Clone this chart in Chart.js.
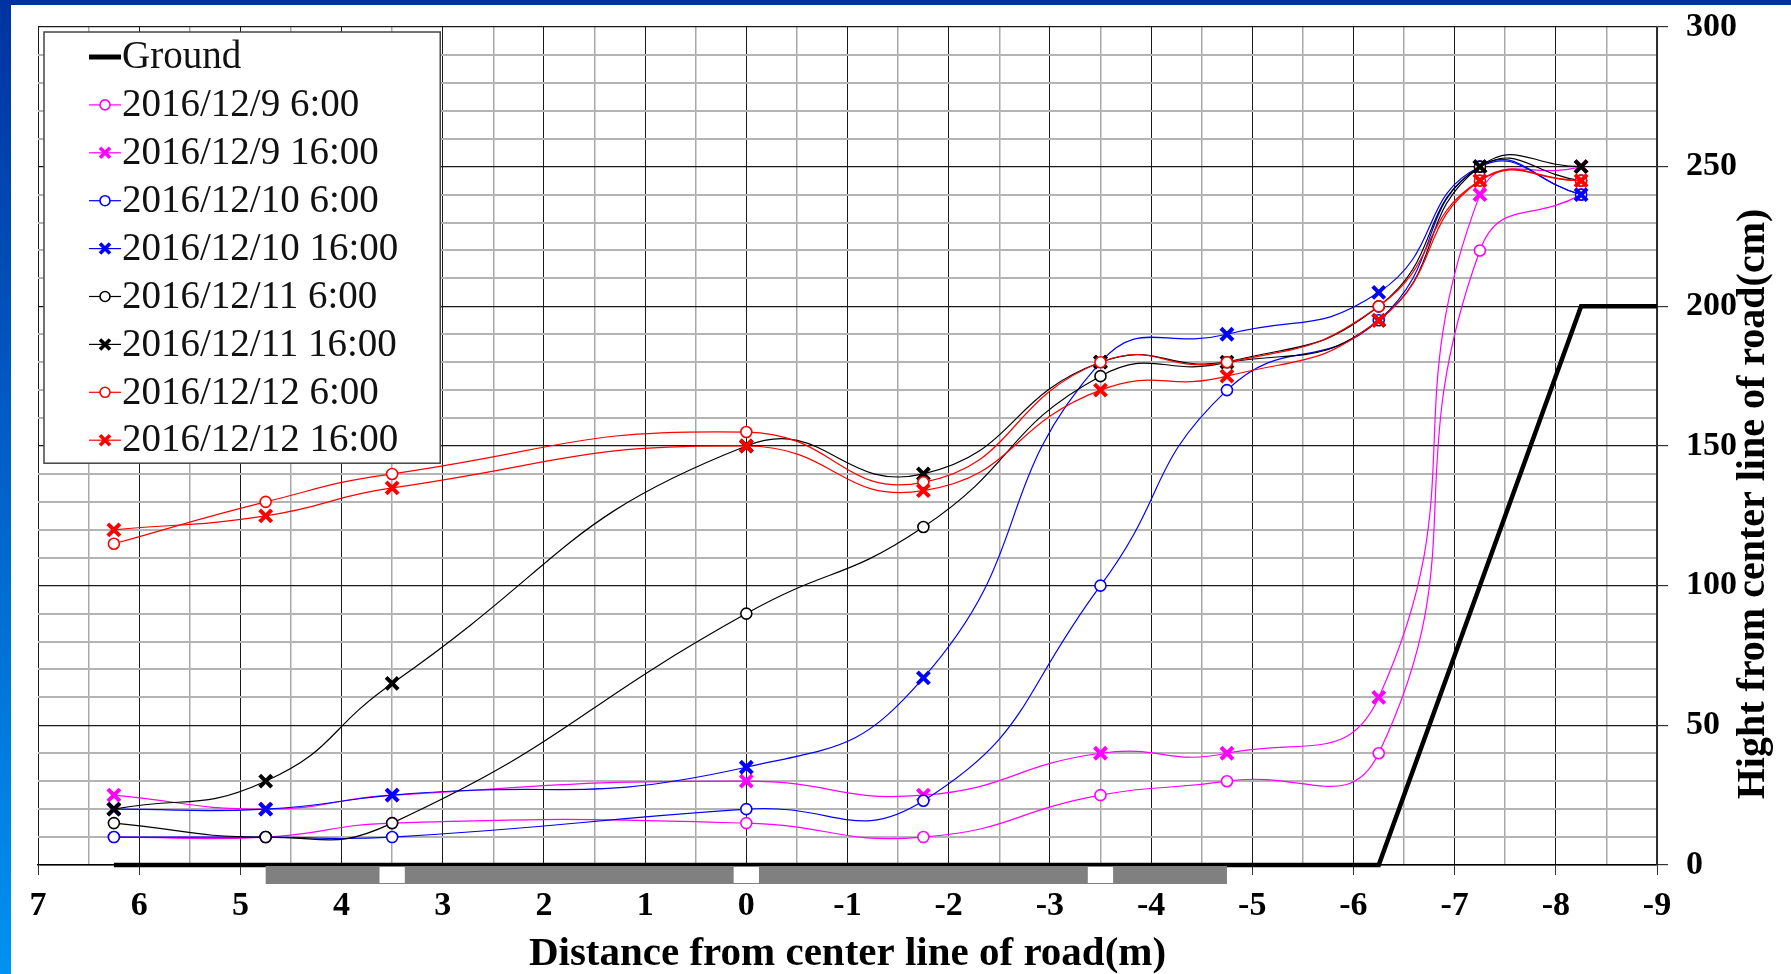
<!DOCTYPE html>
<html>
<head>
<meta charset="utf-8">
<title>Snow height profile</title>
<script src="https://cdn.jsdelivr.net/npm/chart.js@4.4.1/dist/chart.umd.min.js"></script>
<style>
  html, body { margin: 0; padding: 0; background: #fff; overflow: hidden; }
  #wrap { position: relative; width: 1791px; height: 974px; }
  #wrap canvas { position: absolute; left: 0; top: 0; }
  #topband { position: absolute; left: 0; top: 0; width: 1791px; height: 5px; background: #0033a0; }
  #leftband { position: absolute; left: 0; top: 0; width: 11px; height: 974px; background: linear-gradient(#0033a0, #0092f2); }
</style>
</head>
<body>
<div id="wrap">
  <canvas id="profileChart" width="1791" height="974"></canvas>
  <div id="topband"></div>
  <div id="leftband"></div>
</div>
<script>
// measuring points (m from the road centre line)
var distances = [6.25, 4.75, 3.5, 0, -1.75, -3.5, -4.75, -6.25, -7.25, -8.25];

// snow surface height (cm) at each measuring point
var dec9am = [10, 10, 15, 15, 10, 25, 30, 40, 220, 240];
var dec9pm = [25, 20, 25, 30, 25, 40, 40, 60, 240, 250];
var dec10am = [10, 10, 10, 20, 23, 100, 170, 195, 250, 240];
var dec10pm = [20, 20, 25, 35, 67, 180, 190, 205, 250, 240];
var dec11am = [15, 10, 15, 90, 121, 175, 180, 200, 250, 245];
var dec11pm = [20, 30, 65, 150, 140, 180, 180, 195, 250, 250];
var dec12am = [115, 130, 140, 155, 137, 180, 180, 200, 245, 245];
var dec12pm = [120, 125, 135, 150, 134, 170, 175, 195, 245, 245];

// ground profile
var groundX = [6.25, -6.25, -8.25, -9];
var groundY = [0, 0, 200, 200];

// road surface under the axis, with its lane marks
var roadEdges = [4.75, -4.75];
var roadMarks = [3.5, 0, -3.5];

// labelled ticks
var xLabelValues = [7, 6, 5, 4, 3, 2, 1, 0, -1, -2, -3, -4, -5, -6, -7, -8, -9];
var yLabelValues = [0, 50, 100, 150, 200, 250, 300];

var serif = '"Liberation Serif", "Times New Roman", serif';

function series(label, values, color, marker) {
  var isCross = marker === 'x';
  return {
    label: label,
    data: values.map(function (v, i) { return { x: distances[i], y: v }; }),
    borderColor: color,
    borderWidth: 1.2,
    backgroundColor: '#fff',
    pointStyle: isCross ? 'crossRot' : 'circle',
    pointRadius: isCross ? 8.5 : 5.5,
    pointBorderWidth: isCross ? 4 : 1.6,
    pointBackgroundColor: '#fff',
    pointBorderColor: color,
    tension: 0.5,
    fill: false,
    marker: marker
  };
}

var datasets = [
  {
    label: 'Ground',
    data: groundX.map(function (x, i) { return { x: x, y: groundY[i] }; }),
    borderColor: '#000',
    borderWidth: 4.5,
    pointRadius: 0,
    tension: 0,
    fill: false,
    clip: false,
    marker: 'none'
  },
  series('2016/12/9 6:00', dec9am, '#ff00ff', 'o'),
  series('2016/12/9 16:00', dec9pm, '#ff00ff', 'x'),
  series('2016/12/10 6:00', dec10am, '#0000ff', 'o'),
  series('2016/12/10 16:00', dec10pm, '#0000ff', 'x'),
  series('2016/12/11 6:00', dec11am, '#000000', 'o'),
  series('2016/12/11 16:00', dec11pm, '#000000', 'x'),
  series('2016/12/12 6:00', dec12am, '#ff0000', 'o'),
  series('2016/12/12 16:00', dec12pm, '#ff0000', 'x')
];
// later series are drawn on top, like the original
datasets.forEach(function (d, i) { d.order = -i; });

// grey road band with white marks, under the x axis
var roadBand = {
  id: 'roadBand',
  afterDatasetsDraw: function (chart) {
    var ctx = chart.ctx;
    var xs = chart.scales.x;
    var top = chart.chartArea.bottom + 1;
    var x0 = xs.getPixelForValue(roadEdges[0]);
    var x1 = xs.getPixelForValue(roadEdges[1]);
    ctx.save();
    ctx.fillStyle = '#808080';
    ctx.fillRect(x0, top, x1 - x0, 18);
    ctx.fillStyle = '#fff';
    roadMarks.forEach(function (m) {
      var a = xs.getPixelForValue(m + 0.125);
      var b = xs.getPixelForValue(m - 0.125);
      ctx.fillRect(a, top + 1, b - a, 16);
    });
    ctx.restore();
  }
};

// boxed legend in the upper left corner of the plot
var legendPanel = {
  id: 'legendPanel',
  afterDatasetsDraw: function (chart) {
    var ctx = chart.ctx;
    var area = chart.chartArea;
    var sets = chart.data.datasets;
    var boxX = area.left + 6, boxY = area.top + 5, rowH = 47.9;
    ctx.save();
    ctx.font = '39px ' + serif;
    var widest = 0;
    sets.forEach(function (d) { widest = Math.max(widest, ctx.measureText(d.label).width); });
    var boxW = 78 + widest + 42;
    var boxH = 25 + rowH * (sets.length - 1) + 23;
    ctx.fillStyle = '#fff';
    ctx.fillRect(boxX, boxY, boxW, boxH);
    ctx.strokeStyle = '#444';
    ctx.lineWidth = 1.5;
    ctx.strokeRect(boxX, boxY, boxW, boxH);

    sets.forEach(function (d, i) {
      var cy = boxY + 25 + i * rowH;
      var lx0 = boxX + 45, lx1 = boxX + 77, cx = (lx0 + lx1) / 2;
      ctx.strokeStyle = d.borderColor;
      ctx.lineWidth = d.marker === 'none' ? 5 : 1.2;
      ctx.beginPath();
      ctx.moveTo(lx0, cy);
      ctx.lineTo(lx1, cy);
      ctx.stroke();
      if (d.marker === 'o') {
        ctx.lineWidth = 1.6;
        ctx.fillStyle = '#fff';
        ctx.beginPath();
        ctx.arc(cx, cy, 5, 0, Math.PI * 2);
        ctx.fill();
        ctx.stroke();
      } else if (d.marker === 'x') {
        var r = 5;
        ctx.lineWidth = 3.6;
        ctx.beginPath();
        ctx.moveTo(cx - r, cy - r); ctx.lineTo(cx + r, cy + r);
        ctx.moveTo(cx + r, cy - r); ctx.lineTo(cx - r, cy + r);
        ctx.stroke();
      }
      ctx.fillStyle = '#111';
      ctx.textBaseline = 'middle';
      ctx.textAlign = 'left';
      ctx.fillText(d.label, boxX + 78, cy + 1);
    });
    ctx.restore();
  }
};

// y title reads bottom to top, on the right side
var yTitle = {
  id: 'yTitle',
  afterDraw: function (chart) {
    var ctx = chart.ctx;
    var ys = chart.scales.y;
    ctx.save();
    ctx.translate(ys.right - 37, 504);
    ctx.rotate(-Math.PI / 2);
    ctx.font = 'bold 40px ' + serif;
    ctx.fillStyle = '#000';
    ctx.textAlign = 'center';
    ctx.textBaseline = 'middle';
    ctx.fillText('Hight from center line of road(cm)', 0, 0);
    ctx.restore();
  }
};

var config = {
  type: 'line',
  data: { datasets: datasets },
  options: {
    responsive: false,
    animation: false,
    layout: { padding: { left: 38, top: 27, right: 0, bottom: 0 } },
    plugins: {
      legend: { display: false },
      tooltip: { enabled: false }
    },
    scales: {
      x: {
        type: 'linear',
        reverse: true,
        min: -9,
        max: 7,
        afterFit: function (s) { s.height = 109; },
        ticks: {
          stepSize: 0.5,
          autoSkip: false,
          maxRotation: 0,
          padding: 11,
          color: '#000',
          font: { family: serif, size: 34, weight: 'bold' },
          callback: function (v) { return xLabelValues.indexOf(v) >= 0 ? String(v) : ''; }
        },
        grid: {
          color: function (c) { return Number.isInteger(c.tick.value) ? '#1a1a1a' : '#a8a8a8'; },
          lineWidth: function (c) { return Number.isInteger(c.tick.value) ? 1 : 1.5; },
          tickColor: function (c) { return Number.isInteger(c.tick.value) ? '#333' : 'rgba(0,0,0,0)'; },
          tickLength: 10
        },
        border: { color: '#000', width: 1.5 },
        title: {
          display: true,
          text: 'Distance from center line of road(m)',
          color: '#000',
          font: { family: serif, size: 41, weight: 'bold' },
          padding: { top: 0, bottom: -5 }
        }
      },
      y: {
        type: 'linear',
        position: 'right',
        min: 0,
        max: 300,
        afterFit: function (s) {
          s.width = 134;
          // keep the plot top where the original has it
          s.paddingTop = 0;
          s.paddingBottom = 0;
        },
        ticks: {
          stepSize: 10,
          autoSkip: false,
          padding: 18,
          color: '#000',
          font: { family: serif, size: 34, weight: 'bold' },
          callback: function (v) { return yLabelValues.indexOf(v) >= 0 ? String(v) : ''; }
        },
        grid: {
          color: function (c) { return c.tick.value % 50 === 0 ? '#1a1a1a' : '#b4b4b4'; },
          lineWidth: function (c) { return c.tick.value % 50 === 0 ? 1.2 : 2; },
          tickColor: function (c) { return c.tick.value % 50 === 0 ? '#333' : 'rgba(0,0,0,0)'; },
          tickLength: 11
        },
        border: { color: '#333', width: 1.5 }
      }
    }
  },
  plugins: [roadBand, legendPanel, yTitle]
};

var ctx = document.getElementById('profileChart').getContext('2d');
window.profileChart = new Chart(ctx, config);
</script>
</body>
</html>
